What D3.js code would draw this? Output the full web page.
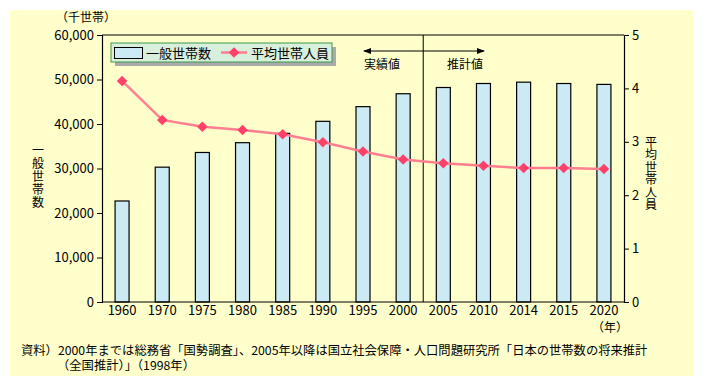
<!DOCTYPE html>
<html>
 <head>
   <meta charset="utf-8" />
   <title>一般世帯数と平均世帯人員</title>
   <script src="https://cdn.jsdelivr.net/npm/d3@7"></script>
   <style>
     body { margin: 0; background: #fff; }
     text { font-family: "Noto Sans CJK JP", sans-serif; fill: #000; }
   </style>
 </head>
 <body>
   <script>
     // data
     var years      = ["1960","1970","1975","1980","1985","1990","1995","2000","2005","2010","2014","2015","2020"];
     var households = [22700, 30300, 33600, 35800, 37900, 40600, 43900, 46800, 48200, 49100, 49400, 49100, 48900];
     var avgPersons = [4.14, 3.41, 3.28, 3.22, 3.14, 2.99, 2.82, 2.67, 2.60, 2.55, 2.51, 2.51, 2.49];
     var leftTicks  = [0, 10000, 20000, 30000, 40000, 50000, 60000];
     var rightTicks = [0, 1, 2, 3, 4, 5];

     var width = 703, height = 385;
     var m = {left: 102, right: 624, top: 35, bottom: 302};

     var svg = d3.select("body").append("svg")
                 .attr("width", width)
                 .attr("height", height);

     // yellow panel
     svg.append("rect")
        .attr("x", 10).attr("y", 10)
        .attr("width", 683).attr("height", 366)
        .attr("fill", "#ffffcc");

     var x = d3.scaleBand().domain(years).range([m.left, m.right]);
     var yL = d3.scaleLinear().domain([0, 60000]).range([m.bottom, m.top]);
     var yR = d3.scaleLinear().domain([0, 5]).range([m.bottom, m.top]);

     var fmt = d3.format(",");

     // top of frame
     svg.append("line")
        .attr("x1", m.left).attr("x2", m.right)
        .attr("y1", m.top).attr("y2", m.top)
        .attr("stroke", "#000");

     // bars
     var bw = 14;
     svg.selectAll("rect.bar")
        .data(years)
        .enter().append("rect")
        .attr("class", "bar")
        .attr("x", function(d) { return x(d) + x.bandwidth() / 2 - bw / 2; })
        .attr("y", function(d, i) { return yL(households[i]); })
        .attr("width", bw)
        .attr("height", function(d, i) { return m.bottom - yL(households[i]); })
        .attr("fill", "#cceaf4")
        .attr("stroke", "#000")
        .attr("stroke-width", 1.2);

     // divider between actual and estimate
     var divX = x("2005");
     svg.append("line")
        .attr("x1", divX).attr("x2", divX)
        .attr("y1", m.top).attr("y2", m.bottom)
        .attr("stroke", "#000");

     // axes
     var axL = svg.append("g")
        .attr("transform", "translate(" + m.left + ",0)")
        .call(d3.axisLeft(yL).tickValues(leftTicks).tickFormat(fmt).tickSize(5).tickPadding(3));
     var axR = svg.append("g")
        .attr("transform", "translate(" + m.right + ",0)")
        .call(d3.axisRight(yR).tickValues(rightTicks).tickFormat(d3.format("d")).tickSize(5).tickPadding(3));
     var axB = svg.append("g")
        .attr("transform", "translate(0," + m.bottom + ")")
        .call(d3.axisBottom(x).tickSize(0).tickPadding(4));

     [axL, axR, axB].forEach(function(a) {
       a.select(".domain").attr("stroke", "#000").attr("stroke-width", 1.2);
       a.selectAll("text").style("font-size", "13px").style("font-family", "'Noto Sans CJK JP', sans-serif");
     });
     axB.select(".domain").attr("d", "M" + m.left + ",0H" + m.right);

     // line series
     var line = d3.line()
        .x(function(d, i) { return x(years[i]) + x.bandwidth() / 2; })
        .y(function(d) { return yR(d); });

     svg.append("path")
        .datum(avgPersons)
        .attr("d", line)
        .attr("fill", "none")
        .attr("stroke", "#ff7f90")
        .attr("stroke-width", 2.5);

     var diamond = d3.symbol().type(d3.symbolDiamond2).size(70);
     svg.selectAll("path.pt")
        .data(avgPersons)
        .enter().append("path")
        .attr("class", "pt")
        .attr("d", diamond)
        .attr("transform", function(d, i) {
          return "translate(" + (x(years[i]) + x.bandwidth() / 2) + "," + yR(d) + ")";
        })
        .attr("fill", "#ff4068");

     // legend
     svg.append("rect")
        .attr("x", 115).attr("y", 47).attr("width", 221).attr("height", 19)
        .attr("fill", "#aaaaaa");
     svg.append("rect")
        .attr("x", 111).attr("y", 43).attr("width", 221).attr("height", 19)
        .attr("fill", "#d8efdc").attr("stroke", "#3a9a4a");
     svg.append("rect")
        .attr("x", 114.5).attr("y", 47.5).attr("width", 28).attr("height", 11)
        .attr("fill", "#cceaf4").attr("stroke", "#000");
     svg.append("text").attr("x", 146).attr("y", 57.5)
        .style("font-size", "13px").text("一般世帯数");
     svg.append("line")
        .attr("x1", 221).attr("x2", 247).attr("y1", 52.5).attr("y2", 52.5)
        .attr("stroke", "#ff7f90").attr("stroke-width", 2.5);
     svg.append("path").attr("d", diamond)
        .attr("transform", "translate(234,52.5)").attr("fill", "#ff4068");
     svg.append("text").attr("x", 251).attr("y", 57.5)
        .style("font-size", "13px").text("平均世帯人員");

     // 実績値 / 推計値 arrow
     svg.append("line")
        .attr("x1", 364).attr("x2", 484).attr("y1", 51).attr("y2", 51)
        .attr("stroke", "#000");
     svg.append("path").attr("d", "M363,51L371,48L371,54Z").attr("fill", "#000");
     svg.append("path").attr("d", "M485,51L477,48L477,54Z").attr("fill", "#000");
     svg.append("text").attr("x", 382).attr("y", 69).attr("text-anchor", "middle")
        .style("font-size", "12px").text("実績値");
     svg.append("text").attr("x", 465).attr("y", 69).attr("text-anchor", "middle")
        .style("font-size", "12px").text("推計値");

     // axis titles
     svg.append("text").attr("x", 56).attr("y", 22)
        .style("font-size", "12px").text("（千世帯）");
     svg.append("text").attr("x", 610).attr("y", 332).attr("text-anchor", "middle")
        .style("font-size", "12px").text("（年）");

     // vertical titles, one text element each
     svg.append("text").attr("x", 38).attr("y", 144)
        .style("writing-mode", "vertical-rl").style("font-size", "12px")
        .style("letter-spacing", "1px").text("一般世帯数");
     svg.append("text").attr("x", 651).attr("y", 136)
        .style("writing-mode", "vertical-rl").style("font-size", "12px")
        .style("letter-spacing", "0.5px").text("平均世帯人員");

     // source note
     var note = svg.append("text").style("font-size", "12.3px");
     note.append("tspan").attr("x", 21).attr("y", 355)
        .text("資料）2000年までは総務省「国勢調査」、2005年以降は国立社会保障・人口問題研究所「日本の世帯数の将来推計");
     note.append("tspan").attr("x", 57).attr("y", 370)
        .text("（全国推計）」（1998年）");
   </script>
 </body>
</html>
